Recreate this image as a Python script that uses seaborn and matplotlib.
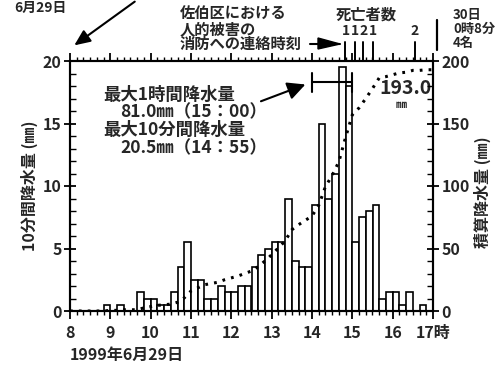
import numpy as np
import pandas as pd
import matplotlib
matplotlib.use("Agg")
import matplotlib.pyplot as plt
import matplotlib.transforms as mtransforms
import seaborn as sns

# 10-minute rainfall (mm), 1999-06-29, intervals starting 8:00, 8:10, ..., 16:50
rain_10min = [
    0, 0, 0, 0, 0, 0.5, 0, 0.5, 0, 0,
    1.5, 1.0, 1.0, 0.5, 0.5, 1.5, 3.5, 5.5, 2.5, 2.5,
    1.0, 1.0, 2.0, 1.5, 1.5, 2.0, 2.0, 3.5, 4.5, 5.0,
    5.5, 5.5, 9.0, 4.0, 3.5, 3.5, 8.5, 15.0, 9.0, 11.0,
    19.5, 18.0, 5.5, 7.5, 8.0, 8.5, 1.0, 1.5, 1.5, 0.5,
    1.5, 0, 0.5, 0,
]
hour_ticks = [8, 9, 10, 11, 12, 13, 14, 15, 16, 17]
hour_labels = ["8", "9", "10", "11", "12", "13", "14", "15", "16", "17時"]

# deaths: report times (hours) and counts
death_times = [14.83, 15.07, 15.27, 15.52, 16.55]
death_counts = ["1", "1", "2", "1", "2"]

# max 1-hour window (14:00-15:00)
max_hour_start, max_hour_end = 14.0, 15.0
total_rain = "193.0"

sns.set_theme(style="ticks")
plt.rcParams["font.family"] = ["Noto Sans CJK JP", "DejaVu Sans"]
plt.rcParams["font.weight"] = "bold"

step = 1 / 6
starts = 8 + np.arange(len(rain_10min)) * step
mids = starts + step / 2
edges = 8 + np.arange(len(rain_10min) + 1) * step
df = pd.DataFrame({"t": mids, "rain": rain_10min})
cum = pd.DataFrame({"t": edges, "cum": np.concatenate([[0], np.cumsum(rain_10min)])})

fig = plt.figure(figsize=(5.01, 3.69), dpi=100)
ax = fig.add_axes([70 / 501, 1 - 311 / 369, 363 / 501, 250 / 369])
ax2 = ax.twinx()

sns.histplot(data=df, x="t", weights="rain", bins=list(edges), ax=ax,
             color="white", edgecolor="black", linewidth=1.2, alpha=1)
sns.lineplot(data=cum, x="t", y="cum", ax=ax2, color="black",
             linestyle=(0, (0.9, 2.0)), linewidth=2.2)

ax.set_xlim(8, 17)
ax.set_ylim(0, 20)
ax2.set_ylim(0, 200)
ax.set_xlabel("")
ax.set_ylabel("")
ax2.set_ylabel("")

for a in (ax, ax2):
    for s in a.spines.values():
        s.set_visible(True)
        s.set_linewidth(1.5)
        s.set_color("black")

ax.set_xticks(hour_ticks)
ax.set_xticklabels(hour_labels)
ax.set_xticks(np.arange(8, 17.001, step), minor=True)
ax.set_yticks([0, 5, 10, 15, 20])
ax.set_yticks(np.arange(0, 21, 1), minor=True)
ax2.set_yticks([0, 50, 100, 150, 200])
ax2.set_yticks(np.arange(0, 201, 10), minor=True)

ax.tick_params(axis="x", which="major", direction="out", length=6, width=1.3,
               top=True, bottom=True, labelsize=11.5, pad=4, color="black")
ax.tick_params(axis="x", which="minor", direction="out", length=3, width=1.0,
               top=True, bottom=True, color="black")
ax.tick_params(axis="y", which="major", direction="inout", length=8, width=1.3,
               labelsize=11.5, pad=2, color="black")
ax.tick_params(axis="y", which="minor", direction="in", length=4, width=1.0, color="black")
ax2.tick_params(axis="y", which="major", direction="inout", length=8, width=1.3,
                labelsize=11.5, pad=2, color="black")
ax2.tick_params(axis="y", which="minor", direction="in", length=4, width=1.0, color="black")
for lab in ax.get_xticklabels() + ax.get_yticklabels() + ax2.get_yticklabels():
    lab.set_fontweight("bold")

fig.text(29 / 501, 1 - 186 / 369, "10分間降水量 (㎜)", rotation=90,
         ha="center", va="center", fontsize=11.5, fontweight="bold")
fig.text(482 / 501, 1 - 192 / 369, "積算降水量 (㎜)", rotation=90,
         ha="center", va="center", fontsize=11.5, fontweight="bold")
fig.text(70 / 501, 1 - 355 / 369, "1999年6月29日", ha="left", va="center",
         fontsize=11.5, fontweight="bold")

# annotation block
ax.text(8.82, 17.3, "最大1時間降水量", fontsize=12.5, fontweight="bold", va="center")
ax.text(9.25, 15.9, "81.0㎜（15：00）", fontsize=12.5, fontweight="bold", va="center")
ax.text(8.82, 14.45, "最大10分間降水量", fontsize=12.5, fontweight="bold", va="center")
ax.text(9.25, 13.0, "20.5㎜（14：55）", fontsize=12.5, fontweight="bold", va="center")

# 1-hour bracket and arrow
yb = 18.3
ax.plot([max_hour_start, max_hour_end], [yb, yb], color="black", lw=1.5)
ax.plot([max_hour_start, max_hour_start], [yb - 0.75, yb + 0.75], color="black", lw=1.5)
ax.plot([max_hour_end, max_hour_end], [yb - 0.75, yb + 0.75], color="black", lw=1.5)
ax.annotate("", xy=(max_hour_start - 0.1, yb - 0.1), xytext=(12.67, 16.7),
            arrowprops=dict(arrowstyle="-|>,head_length=0.9,head_width=0.45",
                            color="black", lw=1.5))

ax.text(16.97, 17.8, total_rain, fontsize=14, fontweight="bold", ha="right", va="center")
ax.text(16.2, 16.5, "㎜", fontsize=8, fontweight="bold", ha="center", va="center")

# death markers above the frame
trans = mtransforms.blended_transform_factory(ax.transData, ax.transAxes)
for t, n in zip(death_times, death_counts):
    ax.plot([t, t], [1.0, 1.075], color="black", lw=1.4, transform=trans, clip_on=False)
    ax.text(t, 1.12, n, transform=trans, ha="center", va="center",
            fontsize=10, fontweight="bold")
ax.plot([1.011, 1.011], [1.045, 1.165], color="black", lw=1.6,
        transform=ax.transAxes, clip_on=False)
for i, s in enumerate(["30日", "0時8分", "4名"]):
    fig.text(453 / 501, 1 - (15 + 14 * i) / 369, s, ha="left", va="center",
             fontsize=9.5, fontweight="bold")
fig.text(366 / 501, 1 - 15 / 369, "死亡者数", ha="center", va="center",
         fontsize=11, fontweight="bold")
for i, s in enumerate(["佐伯区における", "人的被害の", "消防への連絡時刻"]):
    fig.text(180 / 501, 1 - (14 + 15 * i) / 369, s, ha="left", va="center",
             fontsize=11, fontweight="bold")
fig.patches.append(plt.Polygon([[318 / 501, 1 - 38 / 369], [318 / 501, 1 - 49 / 369],
                                [340 / 501, 1 - 44 / 369]], closed=True,
                               transform=fig.transFigure, color="black"))
fig.add_artist(plt.Line2D([310 / 501, 340 / 501], [1 - 44 / 369, 1 - 44 / 369],
                          transform=fig.transFigure, color="black", lw=1.5))

# date marker arrow at top-left
fig.text(40 / 501, 1 - 8 / 369, "6月29日", ha="center", va="center",
         fontsize=10, fontweight="bold")
ax.annotate("", xy=(72, 369 - 47), xycoords="figure pixels",
            xytext=(137, 369), textcoords="figure pixels",
            arrowprops=dict(arrowstyle="-|>,head_length=0.8,head_width=0.35",
                            color="black", lw=1.5))

fig.savefig("out.png", dpi=100, facecolor="white")
